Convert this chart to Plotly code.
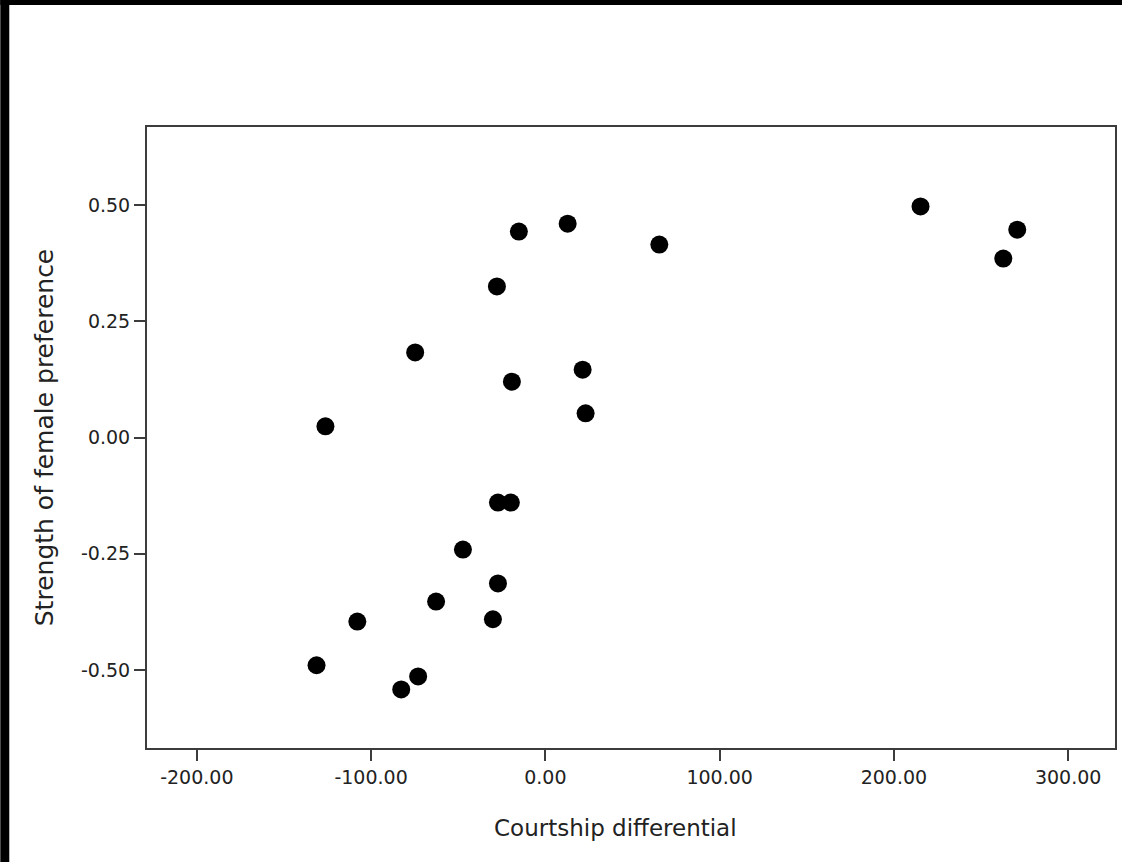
import plotly.graph_objects as go

# Data
courtship_differential = [215.3, 270.8, 262.8, 12.8, -15.2, 65.4, -27.8, -74.7, -19.2, 21.4, 23.1,
                          -126.2, -27.2, -19.8, -47.3, -27.2, -62.7, -30.1, -107.9, -131.3, -73.0, -82.7]
female_preference = [0.497, 0.447, 0.385, 0.460, 0.443, 0.415, 0.325, 0.183, 0.120, 0.146, 0.052,
                     0.024, -0.140, -0.140, -0.241, -0.314, -0.353, -0.391, -0.396, -0.490, -0.514, -0.542]

x_tickvals = [-200, -100, 0, 100, 200, 300]
x_ticktext = ["-200.00", "-100.00", "0.00", "100.00", "200.00", "300.00"]
y_tickvals = [-0.5, -0.25, 0.0, 0.25, 0.5]
y_ticktext = ["-0.50", "-0.25", "0.00", "0.25", "0.50"]
x_title = "Courtship differential"
y_title = "Strength of female preference"

W, H = 1124, 862
L, R, T, B = 147, 7, 127, 114
pw, ph = W - L - R, H - T - B

fig = go.Figure()
fig.add_trace(go.Scatter(
    x=courtship_differential, y=female_preference, mode="markers",
    marker=dict(color="black", size=18, line=dict(width=0)),
    showlegend=False, hoverinfo="x+y",
))

axis_common = dict(
    showgrid=False, zeroline=False, showline=True, mirror=True,
    linecolor="#3c3c3c", linewidth=2, ticks="outside", ticklen=11,
    tickwidth=2, tickcolor="#3c3c3c",
    tickfont=dict(family="DejaVu Sans", size=19, color="#222222"),
)

fig.update_layout(
    width=W, height=H,
    margin=dict(l=L, r=R, t=T, b=B),
    paper_bgcolor="white", plot_bgcolor="white",
    xaxis=dict(range=[-228.6, 326.9], tickvals=x_tickvals, ticktext=x_ticktext,
               **axis_common),
    yaxis=dict(range=[-0.668, 0.668], tickvals=y_tickvals, ticktext=y_ticktext,
               title=dict(text=y_title, standoff=20,
                          font=dict(family="DejaVu Sans", size=25, color="#222222")),
               **axis_common),
    annotations=[
        dict(text=x_title, xref="paper", yref="paper",
             x=(616 - L) / pw, y=(H - B - 828) / ph, xanchor="center", yanchor="middle",
             showarrow=False, font=dict(family="DejaVu Sans", size=23, color="#222222")),
    ],
    shapes=[
        # black border strips of the original screenshot
        dict(type="rect", xref="paper", yref="paper", layer="above",
             x0=(0 - L) / pw, x1=(9 - L) / pw, y0=(H - B - H) / ph, y1=(H - B) / ph,
             fillcolor="black", line=dict(width=0)),
        dict(type="rect", xref="paper", yref="paper", layer="above",
             x0=(0 - L) / pw, x1=(W - L) / pw, y0=(H - B - 5) / ph, y1=(H - B) / ph,
             fillcolor="black", line=dict(width=0)),
    ],
)

fig.write_html("out.html")
